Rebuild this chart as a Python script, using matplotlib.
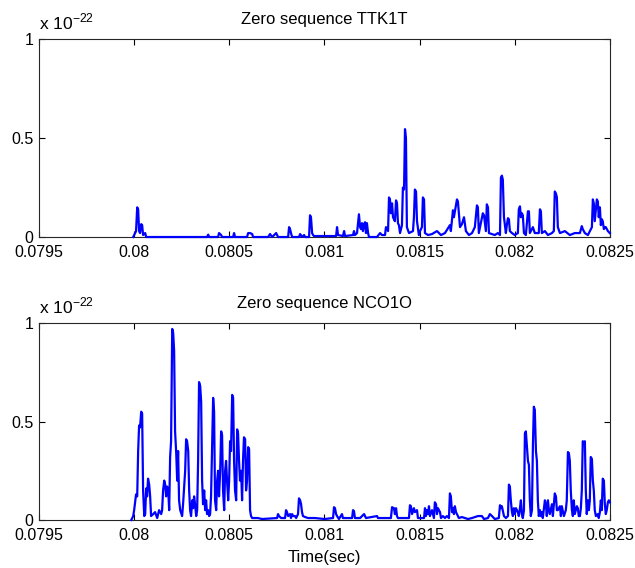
import numpy as np
import matplotlib.pyplot as plt

plt.rcParams['font.family'] = ['Liberation Sans', 'DejaVu Sans']
plt.rcParams['mathtext.fontset'] = 'custom'
plt.rcParams['mathtext.rm'] = 'Liberation Sans'

# time offsets in microseconds after t0, values in units of 1e-22
t0 = 0.08

ttk_us = [-5, 10, 16, 21, 26, 31, 37, 42, 47, 58, 63,
          383, 389, 394,
          441, 446, 457, 462,
          520, 525, 530,
          593, 599, 609, 620, 625,
          704, 714, 725, 746, 756,
          809, 814, 819, 824, 830,
          866, 872, 882, 893, 898,
          919, 924, 929, 935, 940, 945,
          1000, 1061, 1066, 1071, 1097, 1103, 1108,
          1150, 1155, 1160, 1171, 1181, 1187, 1192, 1197, 1202, 1208, 1213, 1218, 1223, 1229, 1234,
          1276, 1292, 1302, 1318, 1323, 1334, 1339, 1344, 1349, 1355, 1360, 1370, 1376, 1381, 1386,
          1391, 1397, 1407, 1412, 1418, 1423, 1428, 1433, 1444, 1465, 1470, 1475, 1481, 1486, 1496,
          1502, 1512, 1517, 1523, 1528,
          1544, 1565, 1591, 1612, 1633, 1659, 1664, 1675, 1680, 1696, 1701, 1706, 1712, 1722, 1733,
          1743, 1759, 1775, 1790, 1801, 1806, 1811, 1832, 1838, 1848, 1853, 1859, 1864, 1880, 1895,
          1911, 1922, 1927, 1932, 1937, 1943, 1953, 1958, 1964, 1969, 1974, 1985, 2000, 2016, 2021,
          2027, 2032, 2037, 2042, 2048, 2058, 2069, 2074, 2079, 2095, 2105, 2126, 2132, 2137, 2142,
          2158, 2174, 2195, 2205, 2210, 2216, 2221, 2226, 2237, 2263, 2289, 2315, 2342, 2352, 2357,
          2368, 2384, 2405, 2410, 2415, 2420, 2431, 2436, 2441, 2447, 2452, 2457, 2462, 2468, 2473,
          2478, 2489, 2499]
ttk_val = [0, 0.03, 0.15, 0.14, 0.03, 0.02, 0.065, 0.06, 0.01, 0.02, 0,
           0, 0.012, 0,
           0, 0.02, 0.01, 0,
           0, 0.02, 0,
           0, 0.02, 0.02, 0.015, 0,
           0, 0.015, 0, 0.02, 0,
           0, 0.05, 0.04, 0.02, 0,
           0, 0.015, 0, 0.01, 0,
           0, 0.11, 0.10, 0.02, 0.01, 0.005,
           0.005, 0.005, 0.05, 0.01, 0.005, 0.03, 0.005,
           0.01, 0.03, 0.01, 0.02, 0.115, 0.05, 0.04, 0.07, 0.03, 0.065, 0.075, 0.02, 0.07, 0.02, 0.0,
           0.0, 0.02, 0.01, 0.01, 0.05, 0.03, 0.2, 0.19, 0.12, 0.17, 0.1, 0.08, 0.185, 0.17, 0.07,
           0.06, 0.02, 0.06, 0.25, 0.24, 0.545, 0.5, 0.05, 0.02, 0.03, 0.1, 0.24, 0.23, 0.08, 0.01,
           0.03, 0.05, 0.2, 0.19, 0.02,
           0.01, 0.015, 0.03, 0.01, 0.02, 0.06, 0.03, 0.135, 0.1, 0.19, 0.18, 0.12, 0.05, 0.065, 0.1,
           0.03, 0.01, 0.02, 0.05, 0.16, 0.15, 0.02, 0.12, 0.11, 0.03, 0.165, 0.15, 0.02, 0.015, 0.01,
           0.02, 0.01, 0.3, 0.31, 0.29, 0.1, 0.02, 0.06, 0.095, 0.09, 0.03, 0.02, 0.01, 0.02, 0.14,
           0.155, 0.1, 0.12, 0.11, 0.02, 0.01, 0.13, 0.13, 0.02, 0.05, 0.02, 0.02, 0.14, 0.13, 0.02,
           0.03, 0.01, 0.02, 0.03, 0.23, 0.22, 0.2, 0.05, 0.02, 0.03, 0.01, 0.02, 0.02, 0.055, 0.04,
           0.02, 0.01, 0.05, 0.19, 0.17, 0.08, 0.19, 0.18, 0.1, 0.15, 0.06, 0.09, 0.08, 0.04, 0.05,
           0.05, 0.03, 0.02]

nco_us = [-15, -5, 0, 10, 16, 21, 26, 31, 37, 42, 47, 53, 58, 63, 68, 73, 79, 84, 89, 100,
          110, 121, 131, 142, 147,
          152, 158, 163, 168, 173, 179, 184, 189, 194, 200, 205, 210, 215, 221, 226, 231, 236, 242,
          252, 257, 268, 273, 278, 284, 289, 294, 299, 305, 310, 315, 320, 326, 331, 336, 341, 347,
          352, 357, 362, 368, 373, 378, 383, 389, 394, 399,
          404, 410, 415, 420, 425, 431, 436, 441, 446, 452, 457, 462, 467, 473, 478, 483, 488, 494,
          499, 504, 509, 515, 520, 525, 530, 536, 541, 546, 551, 556, 562, 567, 572, 577, 583, 588,
          593, 599, 604, 609, 614, 620,
          650, 672, 751, 756, 761, 772, 793, 798, 803, 809, 819, 824, 830, 835, 845, 851, 861, 866,
          872, 877, 882, 887, 898, 914, 950, 1000, 1045, 1050, 1055, 1061, 1066, 1076, 1092, 1097,
          1145, 1150, 1155, 1160, 1187, 1208, 1218,
          1276, 1281, 1302, 1349, 1355, 1365, 1370, 1376, 1381, 1386, 1444, 1449, 1454, 1460, 1470,
          1475, 1486, 1491, 1523, 1528, 1533, 1538, 1544, 1549, 1554, 1565, 1575, 1580, 1586, 1591,
          1596, 1607, 1612, 1622, 1633, 1643, 1654,
          1659, 1664, 1670, 1675, 1680, 1685, 1691, 1696, 1706, 1722, 1738, 1754, 1775, 1806, 1827,
          1838, 1859, 1869, 1880, 1895, 1916, 1922, 1927, 1932, 1943, 1953, 1964, 1969, 1974, 1979,
          1985, 1990, 1995, 2000, 2006, 2011, 2016, 2021, 2027, 2032, 2037, 2042, 2048,
          2053, 2058, 2063, 2069, 2074, 2079, 2084, 2090, 2095, 2100, 2105, 2111, 2116, 2121, 2126,
          2132, 2137, 2142, 2147, 2158, 2163, 2168, 2174, 2179, 2184, 2195, 2200, 2210, 2216, 2221,
          2226, 2237, 2242, 2247, 2258, 2268, 2273, 2279, 2284, 2289, 2294, 2300, 2305, 2310, 2315,
          2326, 2331, 2336, 2342, 2347, 2352, 2357, 2363, 2368, 2373, 2378, 2384, 2389, 2394, 2399,
          2405, 2410, 2415, 2420, 2426, 2436, 2441, 2447, 2452, 2457, 2462, 2468, 2473, 2478, 2483,
          2489, 2494, 2499]
nco_val = [0, 0.02, 0.05, 0.13, 0.12, 0.35, 0.48, 0.47, 0.55, 0.54, 0.15, 0.02, 0.03, 0.16, 0.12,
           0.21, 0.18, 0.12, 0.02, 0.03, 0.04, 0.01, 0.05, 0.03, 0.05,
           0.15, 0.2, 0.18, 0.12, 0.17, 0.15, 0.05, 0.32, 0.4, 0.97, 0.95, 0.86, 0.45, 0.34, 0.2,
           0.35, 0.1, 0.05, 0.02, 0.08, 0.25, 0.41, 0.4, 0.35, 0.15, 0.05, 0.02, 0.1, 0.06, 0.12,
           0.08, 0.02, 0.05, 0.3, 0.7, 0.68, 0.6, 0.2, 0.08, 0.15, 0.05, 0.1, 0.03, 0.05, 0.02, 0.03,
           0.12, 0.4, 0.62, 0.55, 0.1, 0.05, 0.2, 0.25, 0.12, 0.25, 0.45, 0.43, 0.15, 0.05, 0.25,
           0.3, 0.2, 0.1, 0.2, 0.4, 0.35, 0.635, 0.62, 0.3, 0.15, 0.1, 0.46, 0.44, 0.3, 0.2,
           0.25, 0.1, 0.3, 0.42, 0.41, 0.15, 0.2, 0.37, 0.36, 0.05, 0.02, 0.01,
           0.01, 0.005, 0.01, 0.03, 0.02, 0.01, 0.01, 0.05, 0.04, 0.02, 0.03, 0.01, 0.03, 0.02, 0.02,
           0.01, 0.03, 0.11, 0.1, 0.08, 0.04, 0.02, 0.015, 0.01, 0.01, 0.005, 0.01, 0.065, 0.06, 0.03,
           0.02, 0.005, 0.03, 0.01, 0.01, 0.05, 0.045, 0.01, 0.01, 0.03, 0.01,
           0.02, 0.01, 0.01, 0.01, 0.065, 0.06, 0.03, 0.06, 0.02, 0.01, 0.01, 0.075, 0.07, 0.03, 0.06,
           0.04, 0.05, 0.01, 0.01, 0.06, 0.02, 0.05, 0.03, 0.07, 0.02, 0.05, 0.01, 0.09, 0.08, 0.03,
           0.06, 0.04, 0.01, 0.02, 0.01, 0.02, 0.01,
           0.135, 0.12, 0.04, 0.06, 0.03, 0.07, 0.04, 0.03, 0.01, 0.015, 0.01, 0.005, 0.01, 0.02, 0.02,
           0.005, 0.01, 0.03, 0.02, 0.005, 0.01, 0.075, 0.06, 0.07, 0.02, 0.01, 0.02, 0.18, 0.17, 0.1,
           0.04, 0.02, 0.06, 0.03, 0.06, 0.05, 0.04, 0.02, 0.06, 0.1, 0.03, 0.01, 0.05,
           0.44, 0.45, 0.38, 0.3, 0.28, 0.1, 0.02, 0.05, 0.375, 0.575, 0.56, 0.35, 0.3, 0.1, 0.02,
           0.05, 0.02, 0.04, 0.01, 0.1, 0.08, 0.02, 0.1, 0.05, 0.03, 0.08, 0.02, 0.135, 0.12, 0.05,
           0.05, 0.07, 0.02, 0.07, 0.02, 0.05, 0.1, 0.345, 0.34, 0.3, 0.15, 0.05, 0.02, 0.1, 0.03,
           0.07, 0.06, 0.02, 0.02, 0.06, 0.15, 0.4, 0.39, 0.4, 0.15, 0.03, 0.1, 0.05, 0.1, 0.32,
           0.31, 0.2, 0.15, 0.05, 0.02, 0.03, 0.01, 0.04, 0.1, 0.05, 0.21, 0.2, 0.08, 0.03, 0.05,
           0.09, 0.1, 0.09]

assert len(ttk_us) == len(ttk_val) and len(nco_us) == len(nco_val)

titles = ['Zero sequence TTK1T', 'Zero sequence NCO1O']
xticks = [0.0795, 0.08, 0.0805, 0.081, 0.0815, 0.082, 0.0825]
xticklabels = ['0.0795', '0.08', '0.0805', '0.081', '0.0815', '0.082', '0.0825']
yticks = [0, 0.5, 1]
yticklabels = ['0', '0.5', '1']

fig = plt.figure(figsize=(6.35, 5.68), dpi=100)
ax1 = fig.add_axes([0.0614, 0.5827, 0.8992, 0.3486])
ax2 = fig.add_axes([0.0614, 0.0845, 0.8992, 0.3468])

for ax, us, val, title in zip([ax1, ax2], [ttk_us, nco_us], [ttk_val, nco_val], titles):
    t = t0 + np.array(us) * 1e-6
    ax.plot(t, val, color='#0000ff', lw=1.6, clip_on=False, zorder=3)
    ax.set_xlim(0.0795, 0.0825)
    ax.set_ylim(0, 1)
    ax.set_xticks(xticks)
    ax.set_xticklabels(xticklabels)
    ax.set_yticks(yticks)
    ax.set_yticklabels(yticklabels)
    ax.tick_params(direction='in', top=True, right=True, length=4, width=0.8,
                   labelsize=11.5)
    ax.tick_params(axis='x', pad=6)
    ax.tick_params(axis='y', pad=4)
    for s in ax.spines.values():
        s.set_linewidth(0.8)
        s.set_color('#262626')
    ax.set_title(title, fontsize=12, pad=11)
    ax.text(0, 1.035, r'x 10$^{\mathregular{-22}}$', transform=ax.transAxes,
            fontsize=12.5, ha='left', va='bottom')

ax2.set_xlabel('Time(sec)', fontsize=12, labelpad=5)

fig.savefig('out.png', dpi=100, facecolor='white')
